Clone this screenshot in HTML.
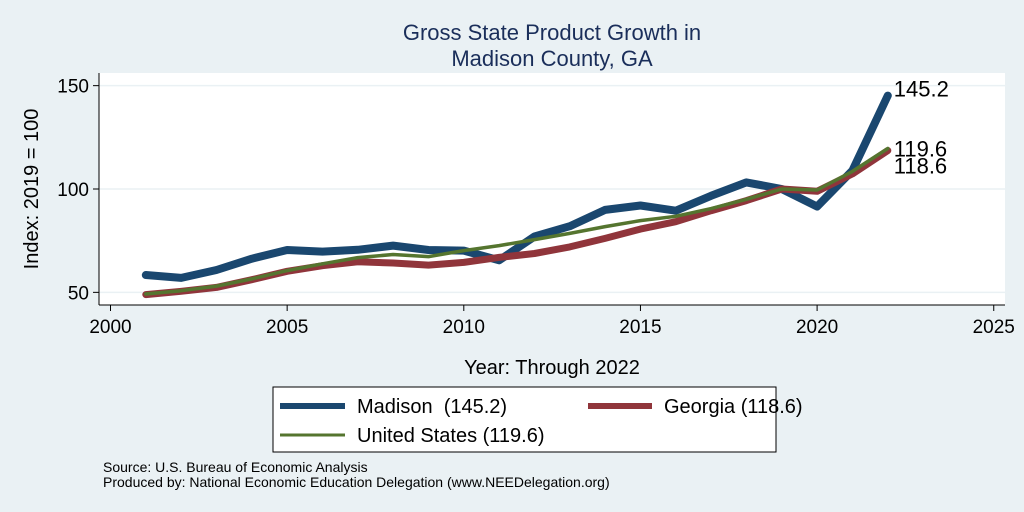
<!DOCTYPE html>
<html><head><meta charset="utf-8"><style>
html,body{margin:0;padding:0;background:#eaf1f4;}
svg{display:block;font-family:"Liberation Sans",Arial,sans-serif;}
</style></head><body>
<svg id="chart" width="1024" height="512" viewBox="0 0 1024 512">
<rect x="0" y="0" width="1024" height="512" fill="#eaf1f4"/>
<text x="552" y="40" text-anchor="middle" font-size="22" fill="#1a2e5a">Gross State Product Growth in</text>
<text x="552" y="66" text-anchor="middle" font-size="22" fill="#1a2e5a">Madison County, GA</text>
<rect x="99" y="73" width="906" height="232" fill="#ffffff"/>
<g id="grid"></g>
<g id="axes"></g>
<g id="series"></g>
<g id="labels"></g>
<text x="552" y="374" text-anchor="middle" font-size="20" fill="#000">Year: Through 2022</text>
<text transform="translate(38,189) rotate(-90)" text-anchor="middle" font-size="20" fill="#000">Index: 2019 = 100</text>
<g>
<rect x="273" y="387" width="503" height="65" fill="#fff" stroke="#000" stroke-width="1"/>
<g>
<line x1="280" y1="406" x2="345" y2="406" stroke="#1a476f" stroke-width="6"/>
<text x="357" y="413" font-size="20" xml:space="preserve">Madison  (145.2)</text></g>
<g>
<line x1="588" y1="406" x2="652" y2="406" stroke="#90353b" stroke-width="6"/>
<text x="664" y="413" font-size="20">Georgia (118.6)</text></g>
<g>
<line x1="280" y1="435" x2="345" y2="435" stroke="#55752f" stroke-width="3"/>
<text x="357" y="442" font-size="20">United States (119.6)</text></g>
</g>
<text x="103" y="472" font-size="14">Source: U.S. Bureau of Economic Analysis</text>
<text x="103" y="487" font-size="14">Produced by: National Economic Education Delegation (www.NEEDelegation.org)</text>
</svg>
<script>
const years = [2001,2002,2003,2004,2005,2006,2007,2008,2009,2010,2011,2012,2013,2014,2015,2016,2017,2018,2019,2020,2021,2022];
const madison = [58.4,57,60.8,66.3,70.5,69.7,70.6,72.6,70.5,70.2,65.5,77,82,89.9,92,89.5,96.7,103.2,100,91.5,108.9,145.2];
const georgia = [48.9,50.5,52.4,56.1,60.2,62.9,64.8,64.2,63.2,64.5,66.9,68.8,72,76.1,80.6,84.2,89.5,94.4,100,98.9,107.3,118.6];
const us = [49.2,50.8,53,56.5,60.5,63.8,66.8,68.3,67.3,70.2,72.6,75.5,78.5,81.8,84.7,86.8,90.5,95,100,99.5,108.5,119.6];
const xTicks = [2000,2005,2010,2015,2020,2025];
const yTicks = [50,100,150];
const endLabels = ["145.2","119.6","118.6"];

const NS = "http://www.w3.org/2000/svg";
const xs = v => 110.5 + (v - 2000) * 35.33;
const ys = v => 189 - (v - 100) * 2.067;
function mk(tag, attrs, parent){const e=document.createElementNS(NS,tag);for(const k in attrs)e.setAttribute(k,attrs[k]);parent.appendChild(e);return e;}
const grid=document.getElementById('grid'), axes=document.getElementById('axes'), series=document.getElementById('series'), labels=document.getElementById('labels');

yTicks.forEach(t=>{
  const g=mk('line',{x1:99,x2:1005,y1:ys(t),y2:ys(t),stroke:'#eaf1f4','stroke-width':1.5},grid);
  
  
  const tk=mk('line',{x1:93,x2:99,y1:ys(t),y2:ys(t),stroke:'#000','stroke-width':1},axes);
  
  
  const tx=mk('text',{x:89,y:ys(t)+7,'text-anchor':'end','font-size':19},axes);
  tx.textContent=t;
  
  
});
const ya=mk('line',{x1:99,x2:99,y1:73,y2:305,stroke:'#000','stroke-width':1},axes);


const xa=mk('line',{x1:99,x2:1005,y1:305,y2:305,stroke:'#000','stroke-width':1},axes);


xTicks.forEach(t=>{
  const tk=mk('line',{x1:xs(t),x2:xs(t),y1:305,y2:311,stroke:'#000','stroke-width':1},axes);
  
  
  const tx=mk('text',{x:xs(t),y:333,'text-anchor':'middle','font-size':19},axes);
  tx.textContent=t;
  
  
});
function line(vals,color,w,name){
  const d=vals.map((v,i)=>(i?'L':'M')+xs(years[i]).toFixed(1)+' '+ys(v).toFixed(1)).join(' ');
  const p=mk('path',{d:d,fill:'none',stroke:color,'stroke-width':w,'stroke-linejoin':'round','stroke-linecap':'round'},series);
  
  
}
line(madison,'#1a476f',8,'line-madison');
line(georgia,'#90353b',7,'line-georgia');
line(us,'#55752f',3.5,'line-us');
const last=years.length-1;
const lx=xs(years[last])+6;
const l1=mk('text',{x:lx,y:ys(madison[last])+1,'font-size':22},labels);
l1.textContent=endLabels[0];


const l2=mk('text',{x:lx,y:ys(us[last])+8,'font-size':22},labels);
l2.textContent=endLabels[1];


const l3=mk('text',{x:lx,y:ys(georgia[last])+23,'font-size':22},labels);
l3.textContent=endLabels[2];


</script>
</body></html>
